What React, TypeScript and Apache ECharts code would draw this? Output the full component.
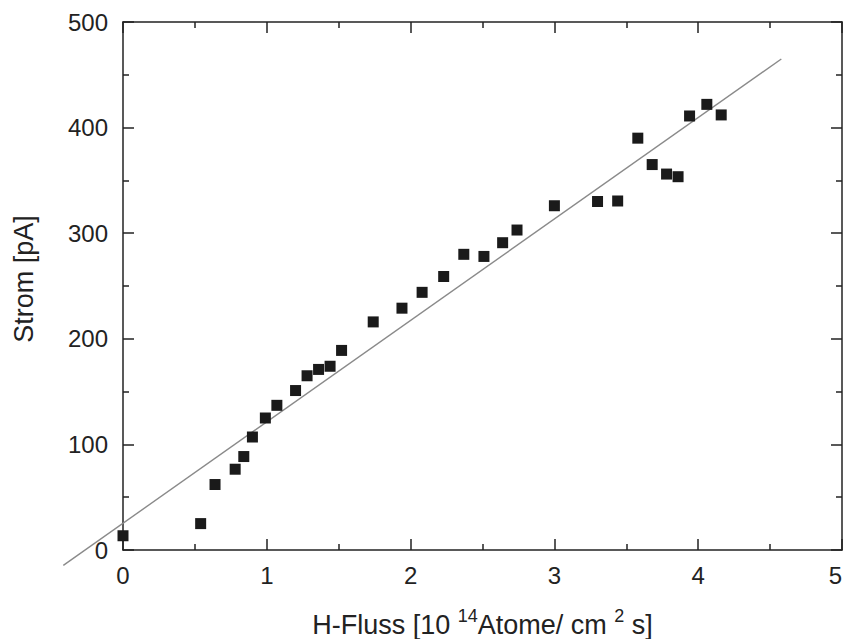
import React, { useEffect, useRef } from "react";
import * as echarts from "echarts";

const fluxX = [0, 0.54, 0.64, 0.78, 0.84, 0.9, 0.99, 1.07, 1.2, 1.28, 1.36, 1.44, 1.52, 1.74, 1.94, 2.08, 2.23, 2.37, 2.51, 2.64, 2.74, 3.0, 3.3, 3.44, 3.58, 3.68, 3.78, 3.86, 3.94, 4.06, 4.16];
const currentY = [13.5, 25, 62, 76.5, 88.5, 107, 125, 137, 151, 165, 171, 174, 189, 216, 229, 244, 259, 280, 278, 291, 303, 326, 330, 330.5, 390, 365, 356, 353.5, 411, 422, 412];
const fitLineX = [-0.415, 4.578];
const fitLineY = [-14.5, 465];
const xTicks = { min: 0, max: 5, interval: 1 };
const yTicks = { min: 0, max: 500, interval: 100 };

const FONT = '"Liberation Sans", Arial, Helvetica, sans-serif';
const AX = "#222222";

export default function App() {
  const ref = useRef<HTMLDivElement>(null);
  useEffect(() => {
    if (!ref.current) return;
    const chart = echarts.init(ref.current, null, { renderer: "svg" });
    const points = fluxX.map((x, i) => [x, currentY[i]]);
    const fitData = [[fitLineX[0], fitLineY[0], fitLineX[1], fitLineY[1]]];
    const axisCommon = {
      type: "value",
      axisLine: { show: true, onZero: false, lineStyle: { color: AX, width: 1.5 } },
      axisTick: { show: true, inside: true, length: 11, lineStyle: { color: AX, width: 1.5 } },
      minorTick: { show: true, splitNumber: 2, length: 6, lineStyle: { color: AX, width: 1.5 } },
      splitLine: { show: false },
    };
    chart.setOption({
      animation: false,
      backgroundColor: "#ffffff",
      grid: { left: 123, right: 5, top: 22, bottom: 89, containLabel: false, outerBoundsMode: "none" },
      xAxis: [
        {
          ...axisCommon,
          position: "bottom",
          ...xTicks,
          name: "{m|H-Fluss [10 }{sup|14}{m|Atome/ cm }{sup|2}{m| s]}",
          nameLocation: "middle",
          nameGap: 57,
          nameTextStyle: {
            fontFamily: FONT,
            fontSize: 27,
            color: AX,
            rich: {
              m: { fontFamily: FONT, fontSize: 27, color: AX, lineHeight: 31, verticalAlign: "bottom" },
              sup: { fontFamily: FONT, fontSize: 18, color: AX, verticalAlign: "top", lineHeight: 2 },
            },
          },
          axisLabel: {
            show: true,
            fontFamily: FONT,
            fontSize: 24,
            color: AX,
            margin: 13,
            showMinLabel: true,
            showMaxLabel: true,
            alignMaxLabel: "right",
          },
        },
        {
          ...axisCommon,
          position: "top",
          ...xTicks,
          axisLabel: { show: false },
        },
      ],
      yAxis: [
        {
          ...axisCommon,
          position: "left",
          ...yTicks,
          name: "Strom [pA]",
          nameLocation: "middle",
          nameGap: 86,
          nameTextStyle: { fontFamily: FONT, fontSize: 27, color: AX, padding: [0, 0, 0, 14] },
          axisLabel: { show: true, fontFamily: FONT, fontSize: 24, color: AX, margin: 15, showMinLabel: true, showMaxLabel: true },
        },
        {
          ...axisCommon,
          position: "right",
          ...yTicks,
          axisLabel: { show: false },
        },
      ],
      series: [
        {
          type: "custom",
          data: fitData,
          xAxisIndex: 0,
          yAxisIndex: 0,
          clip: false,
          encode: { x: [0, 2], y: [1, 3] },
          renderItem: (params: any, api: any) => {
            const p1 = api.coord([api.value(0), api.value(1)]);
            const p2 = api.coord([api.value(2), api.value(3)]);
            return {
              type: "line",
              shape: { x1: p1[0], y1: p1[1], x2: p2[0], y2: p2[1] },
              style: { stroke: "#8a8a8a", lineWidth: 1.4 },
            };
          },
          z: 2,
        },
        {
          type: "scatter",
          data: points,
          xAxisIndex: 0,
          yAxisIndex: 0,
          clip: false,
          symbol: "rect",
          symbolSize: 11,
          itemStyle: { color: "#1a1a1a", opacity: 1 },
          z: 3,
        },
      ],
    });
    return () => chart.dispose();
  }, []);
  return (
    <div
      ref={ref}
      style={{ position: "fixed", left: 0, top: 0, width: 847, height: 639, background: "#fff" }}
    />
  );
}
